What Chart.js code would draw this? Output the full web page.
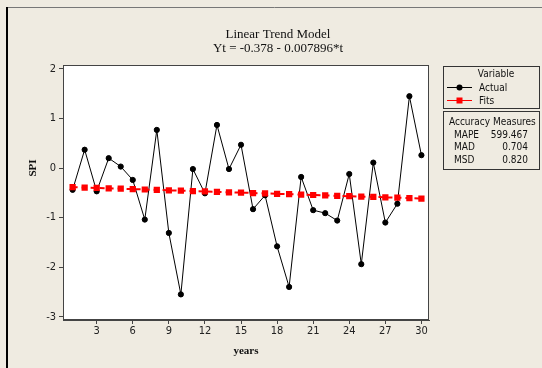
<!DOCTYPE html>
<html>
<head>
<meta charset="utf-8">
<script src="https://cdn.jsdelivr.net/npm/chart.js@4.4.0/dist/chart.umd.min.js"></script>
<style>
  html, body { margin: 0; padding: 0; background: #EFEBE1; }
  #wrap { width: 542px; height: 368px; }
</style>
</head>
<body>
<div id="wrap"><canvas id="c" width="542" height="368"></canvas></div>
<script>
// Time index (years) and the SPI series
const years = [1, 2, 3, 4, 5, 6, 7, 8, 9, 10, 11, 12, 13, 14, 15,
               16, 17, 18, 19, 20, 21, 22, 23, 24, 25, 26, 27, 28, 29, 30];
const actual = [-0.44, 0.37, -0.47, 0.20, 0.03, -0.24, -1.04, 0.77, -1.31, -2.55,
                -0.02, -0.51, 0.87, -0.02, 0.47, -0.83, -0.55, -1.58, -2.40, -0.18,
                -0.85, -0.91, -1.06, -0.12, -1.94, 0.11, -1.10, -0.72, 1.45, 0.26];
// Fitted values of the linear trend Yt = -0.378 - 0.007896*t
const fits = [-0.386, -0.394, -0.402, -0.410, -0.417, -0.425, -0.433, -0.441, -0.449, -0.457,
              -0.465, -0.473, -0.481, -0.489, -0.496, -0.504, -0.512, -0.520, -0.528, -0.536,
              -0.544, -0.552, -0.560, -0.568, -0.575, -0.583, -0.591, -0.599, -0.607, -0.615];
const xTicks = [3, 6, 9, 12, 15, 18, 21, 24, 27, 30];
const yTicks = [-3, -2, -1, 0, 1, 2];
const titleLines = ['Linear Trend Model', 'Yt = -0.378 - 0.007896*t'];
const xTitle = 'years';
const yTitle = 'SPI';
const legendTitle = 'Variable';
const seriesNames = ['Actual', 'Fits'];
const accuracyTitle = 'Accuracy Measures';
const accuracyNames = ['MAPE', 'MAD', 'MSD'];
const accuracyValues = ['599.467', '0.704', '0.820'];

const SANS = '"DejaVu Sans Condensed", "DejaVu Sans", sans-serif';
const SERIF = '"Liberation Serif", "DejaVu Serif", serif';
const BG = '#EFEBE1';

const decor = {
  id: 'decor',
  beforeDraw(chart) {
    const ctx = chart.ctx, a = chart.chartArea;
    ctx.save();
    ctx.fillStyle = BG;
    ctx.fillRect(0, 0, chart.width, chart.height);
    ctx.fillStyle = '#FFFFFF';
    ctx.fillRect(a.left, a.top, a.right - a.left, a.bottom - a.top);
    ctx.restore();
  },
  afterDraw(chart) {
    const ctx = chart.ctx, a = chart.chartArea;
    ctx.save();
    // plot frame
    ctx.strokeStyle = '#444';
    ctx.lineWidth = 1;
    ctx.strokeRect(Math.round(a.left) + 0.5, Math.round(a.top) + 0.5,
                   Math.round(a.right - a.left) - 1, Math.round(a.bottom - a.top) - 1);
    // outer graph frame
    ctx.strokeStyle = '#777';
    ctx.beginPath(); ctx.moveTo(7, 7.5); ctx.lineTo(542, 7.5); ctx.stroke();
    ctx.strokeStyle = '#000';
    ctx.lineWidth = 2;
    ctx.beginPath(); ctx.moveTo(7, 7); ctx.lineTo(7, 368); ctx.stroke();

    // titles
    ctx.fillStyle = '#111';
    ctx.textAlign = 'center';
    ctx.textBaseline = 'middle';
    ctx.font = '13px ' + SERIF;
    ctx.fillText(titleLines[0], 278, 35);
    ctx.fillText(titleLines[1], 278, 49);

    // axis titles
    ctx.font = 'bold 11px ' + SERIF;
    ctx.fillText(xTitle, 246, 351);
    ctx.save();
    ctx.translate(33, 168);
    ctx.rotate(-Math.PI / 2);
    ctx.fillText(yTitle, 0, 0);
    ctx.restore();

    // legend box
    ctx.strokeStyle = '#333';
    ctx.lineWidth = 1;
    ctx.strokeRect(443.5, 66.5, 96, 42);
    ctx.font = '10px ' + SANS;
    ctx.fillStyle = '#111';
    ctx.textAlign = 'center';
    ctx.fillText(legendTitle, 496, 74);
    ctx.textAlign = 'left';
    // Actual entry
    ctx.strokeStyle = '#000';
    ctx.beginPath(); ctx.moveTo(447, 87.5); ctx.lineTo(472, 87.5); ctx.stroke();
    ctx.fillStyle = '#000';
    ctx.beginPath(); ctx.arc(459.5, 87.5, 3, 0, Math.PI * 2); ctx.fill();
    ctx.fillStyle = '#111';
    ctx.fillText(seriesNames[0], 479, 88);
    // Fits entry
    ctx.strokeStyle = '#FF0000';
    ctx.beginPath(); ctx.moveTo(447, 100.5); ctx.lineTo(472, 100.5); ctx.stroke();
    ctx.fillStyle = '#FF0000';
    ctx.fillRect(456.5, 97.5, 6, 6);
    ctx.fillStyle = '#111';
    ctx.fillText(seriesNames[1], 479, 101);

    // accuracy box
    ctx.strokeStyle = '#333';
    ctx.strokeRect(443.5, 111.5, 96, 58);
    ctx.fillText(accuracyTitle, 449, 122);
    for (let i = 0; i < accuracyNames.length; i++) {
      const y = 135 + i * 12.5;
      ctx.textAlign = 'left';
      ctx.fillText(accuracyNames[i], 454, y);
      ctx.textAlign = 'right';
      ctx.fillText(accuracyValues[i], 528, y);
    }
    ctx.restore();
  }
};

const tickFont = { family: SANS, size: 11 };

new Chart(document.getElementById('c'), {
  type: 'line',
  data: {
    datasets: [
      {
        label: seriesNames[0],
        data: years.map((t, i) => ({ x: t, y: actual[i] })),
        borderColor: '#000',
        backgroundColor: '#000',
        borderWidth: 1,
        pointRadius: 2.6,
        pointHoverRadius: 2.6,
        pointStyle: 'circle',
        order: 1
      },
      {
        label: seriesNames[1],
        data: years.map((t, i) => ({ x: t, y: fits[i] })),
        borderColor: '#FF0000',
        backgroundColor: '#FF0000',
        borderWidth: 2,
        borderDash: [5, 4],
        pointRadius: 3,
        pointHoverRadius: 3,
        pointStyle: 'rect',
        order: 0
      }
    ]
  },
  options: {
    responsive: false,
    devicePixelRatio: 1,
    animation: false,
    events: [],
    layout: { padding: { left: 23, right: 113, top: 65, bottom: 0 } },
    plugins: { legend: { display: false }, title: { display: false }, tooltip: { enabled: false } },
    scales: {
      x: {
        type: 'linear',
        min: 0.2,
        max: 30.63,
        afterBuildTicks: s => { s.ticks = xTicks.map(v => ({ value: v })); },
        afterFit: s => { s.height = 48; },
        ticks: { font: tickFont, color: '#222', padding: 1, maxRotation: 0, autoSkip: false },
        grid: { drawOnChartArea: false, drawTicks: true, tickLength: 4, color: '#444' },
        border: { display: true, color: '#444' }
      },
      y: {
        type: 'linear',
        min: -3.067,
        max: 2.08,
        afterBuildTicks: s => { s.ticks = yTicks.map(v => ({ value: v })); },
        afterFit: s => { s.width = 40; },
        ticks: { font: tickFont, color: '#222', padding: 3, autoSkip: false },
        grid: { drawOnChartArea: false, drawTicks: true, tickLength: 4, color: '#444' },
        border: { display: true, color: '#444' }
      }
    }
  },
  plugins: [decor]
});
</script>
</body>
</html>
